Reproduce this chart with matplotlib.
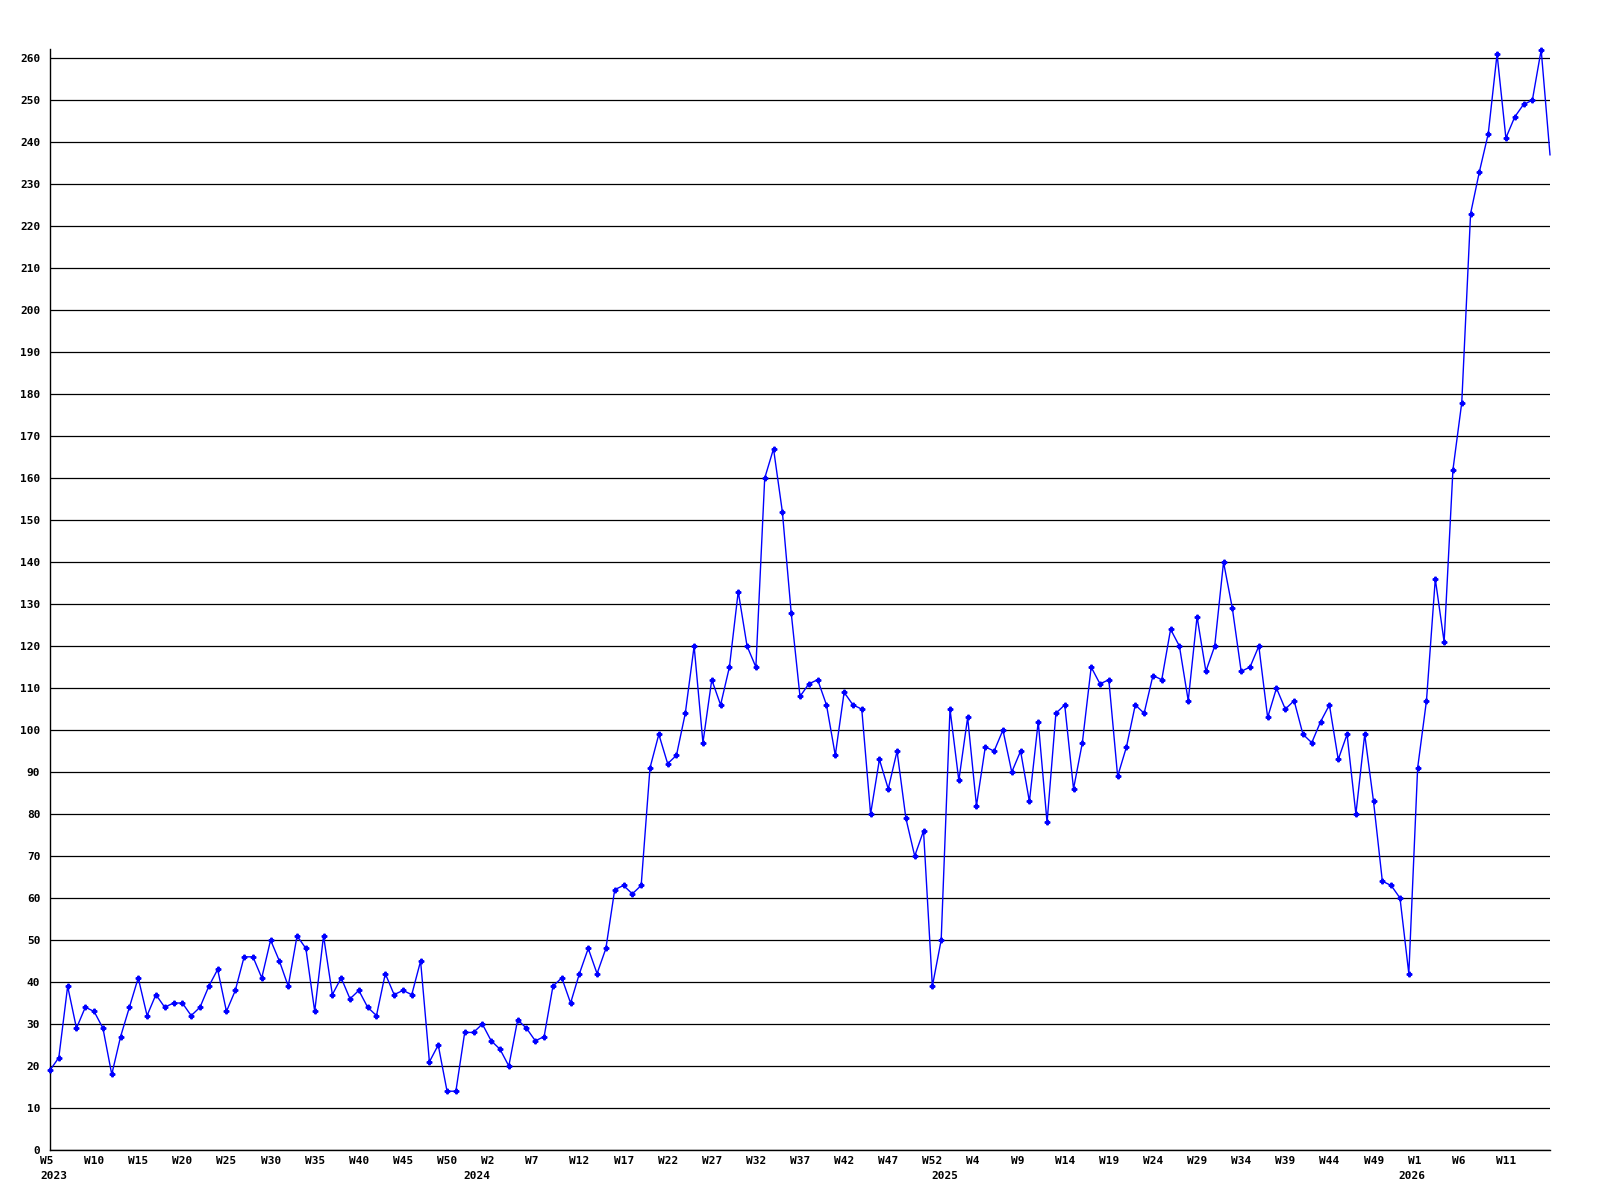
import numpy as np
import matplotlib
matplotlib.use('Agg')
import matplotlib.pyplot as plt

# weekly values, 2023 W5 .. 2026
values = [19, 22, 39, 29, 34, 33, 29, 18, 27, 34, 41, 32, 37, 34, 35, 35, 32, 34, 39, 43,
          33, 38, 46, 46, 41, 50, 45, 39, 51, 48, 33, 51, 37, 41, 36, 38, 34, 32, 42, 37,
          38, 37, 45, 21, 25, 14, 14, 28, 28, 30, 26, 24, 20, 31, 29, 26, 27, 39, 41, 35,
          42, 48, 42, 48, 62, 63, 61, 63, 91, 99, 92, 94, 104, 120, 97, 112, 106, 115, 133, 120,
          115, 160, 167, 152, 128, 108, 111, 112, 106, 94, 109, 106, 105, 80, 93, 86, 95, 79, 70, 76,
          39, 50, 105, 88, 103, 82, 96, 95, 100, 90, 95, 83, 102, 78, 104, 106, 86, 97, 115, 111,
          112, 89, 96, 106, 104, 113, 112, 124, 120, 107, 127, 114, 120, 140, 129, 114, 115, 120, 103, 110,
          105, 107, 99, 97, 102, 106, 93, 99, 80, 99, 83, 64, 63, 60, 42, 91, 107, 136, 121, 162,
          178, 223, 233, 242, 261, 241, 246, 249, 250, 262, 237]

# one label every 5 weeks
week_labels = ['W5', 'W10', 'W15', 'W20', 'W25', 'W30', 'W35', 'W40', 'W45', 'W50',
               'W2', 'W7', 'W12', 'W17', 'W22', 'W27', 'W32', 'W37', 'W42', 'W47', 'W52',
               'W4', 'W9', 'W14', 'W19', 'W24', 'W29', 'W34', 'W39', 'W44', 'W49',
               'W1', 'W6', 'W11']
years = ['2023', '2024', '2025', '2026']
year_start = [0, 48, 101, 154]

font = {'family': 'DejaVu Sans Mono', 'weight': 'bold', 'size': 8}

fig = plt.figure(figsize=(16, 12), dpi=100)
ax = fig.add_axes([50/1600, 50/1200, 1500/1600, 1101/1200])

x = np.arange(len(values))
ax.plot(x, values, color='#0000ff', lw=1, marker='P', ms=3.3,
        markevery=slice(0, len(values)-1), clip_on=False, zorder=3)

ax.set_xlim(0, len(values)-1)
ax.set_ylim(0, 262.2)
ax.set_yticks(range(0, 261, 10))
ax.set_yticklabels([str(v) for v in range(0, 261, 10)], fontdict=font)
ax.grid(axis='y', color='black', lw=0.9)
ax.set_axisbelow(True)

ticks = range(0, 5*len(week_labels), 5)
ax.set_xticks(ticks)
ax.set_xticklabels([])
for lab, pos in zip(week_labels, ticks):
    ax.annotate(lab, xy=(pos, 0), xycoords=('data', 'axes fraction'),
                xytext=(-7.2, -8), textcoords='offset points',
                ha='left', va='center', **font)

for yr, pos in zip(years, year_start):
    ax.annotate(yr, xy=(pos, 0), xycoords=('data', 'axes fraction'),
                xytext=(-7.2, -19), textcoords='offset points',
                ha='left', va='center', **font)

ax.tick_params(length=0)
ax.tick_params(axis='y', pad=7)
for s in ['top', 'right']:
    ax.spines[s].set_visible(False)
for s in ['left', 'bottom']:
    ax.spines[s].set_color('black')
    ax.spines[s].set_linewidth(1)

plt.savefig('out.png', dpi=100)
